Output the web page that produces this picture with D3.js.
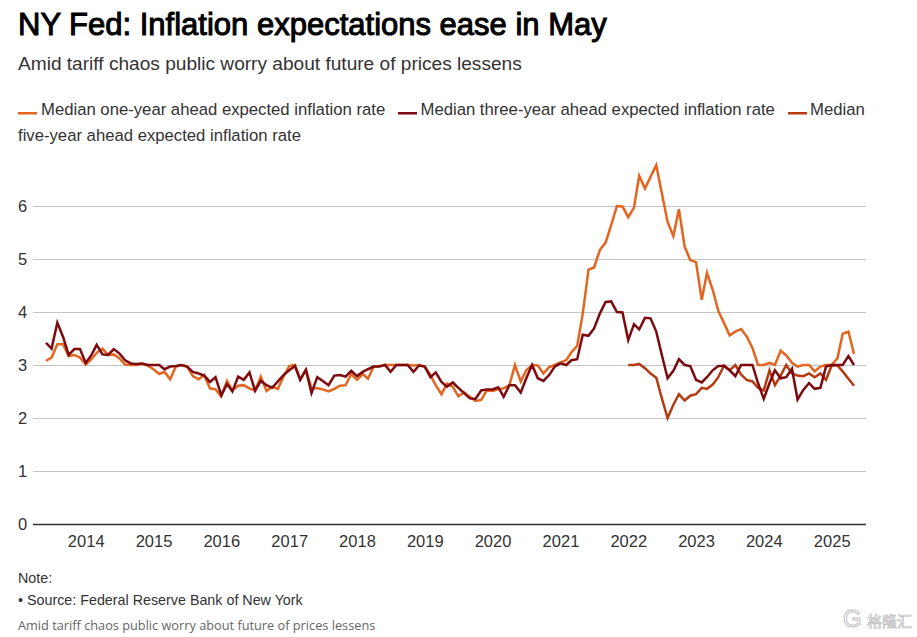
<!DOCTYPE html>
<html>
<head>
<meta charset="utf-8">
<script src="https://cdn.jsdelivr.net/npm/d3@7"></script>
<style>
  html, body { margin: 0; padding: 0; background: #fff; }
  svg { display: block; font-family: "Liberation Sans", Arial, sans-serif; }
  .grid .tick line { stroke: #c4c4c4; stroke-width: 1.2; }
  .grid .tick text { font-size: 16.5px; fill: #333; text-anchor: start; }
  .xaxis .tick text { font-size: 16.5px; fill: #333; }
  .domain { display: none; }
</style>
</head>
<body>
<svg id="chart" width="917" height="637"></svg>
<script>
const firstMonth = '2013-06'
const fiveYearFirstMonth = '2022-01'
const yearTicks = [2014, 2015, 2016, 2017, 2018, 2019, 2020, 2021, 2022, 2023, 2024, 2025]
const valueTicks = [0, 1, 2, 3, 4, 5, 6]
const seriesNames = ['Median one-year ahead expected inflation rate', 'Median three-year ahead expected inflation rate', 'Median five-year ahead expected inflation rate']

const oneYear = [
  3.08, 3.14, 3.39, 3.39, 3.17, 3.19, 3.14, 3.01, 3.11, 3.23, 3.31, 3.19, 3.2, 3.13, 3.01, 3.0,
  3.0, 3.02, 2.99, 2.92, 2.83, 2.87, 2.73, 2.97, 3.0, 2.97, 2.79, 2.73, 2.81, 2.56, 2.54, 2.41,
  2.7, 2.52, 2.61, 2.62, 2.56, 2.52, 2.78, 2.51, 2.59, 2.55, 2.78, 2.98, 3.0, 2.73, 2.91, 2.56,
  2.56, 2.54, 2.5, 2.55, 2.61, 2.62, 2.83, 2.72, 2.83, 2.74, 2.97, 2.98, 3.0, 3.0, 3.0, 3.0,
  3.0, 2.99, 3.0, 2.97, 2.81, 2.62, 2.45, 2.65, 2.59, 2.41, 2.48, 2.4, 2.32, 2.34, 2.52, 2.51,
  2.54, 2.56, 2.62, 3.0, 2.69, 2.9, 3.0, 2.99, 2.84, 2.96, 3.0, 3.05, 3.09, 3.24, 3.36, 3.97,
  4.8, 4.84, 5.17, 5.31, 5.64, 6.0, 5.99, 5.79, 5.97, 6.57, 6.33, 6.55, 6.77, 6.24, 5.7, 5.43,
  5.94, 5.23, 4.98, 4.94, 4.23, 4.74, 4.42, 4.02, 3.79, 3.56, 3.63, 3.68, 3.54, 3.32, 3.0, 3.0,
  3.04, 3.0, 3.27, 3.18, 3.04, 2.97, 3.0, 3.0, 2.88, 2.97, 3.0, 3.0, 3.13, 3.59, 3.63, 3.21
]
const threeYear = [
  3.42, 3.31, 3.8, 3.53, 3.19, 3.3, 3.3, 3.04, 3.19, 3.38, 3.2, 3.19, 3.3, 3.22, 3.09, 3.03,
  3.02, 3.03, 3.0, 3.0, 3.0, 2.92, 2.97, 2.98, 3.0, 2.97, 2.87, 2.84, 2.8, 2.68, 2.77, 2.43,
  2.64, 2.5, 2.78, 2.72, 2.86, 2.51, 2.7, 2.62, 2.57, 2.69, 2.81, 2.9, 2.98, 2.72, 2.91, 2.47,
  2.77, 2.7, 2.62, 2.8, 2.81, 2.78, 2.89, 2.79, 2.87, 2.92, 2.97, 2.97, 3.0, 2.87, 3.0, 3.0,
  3.0, 2.87, 2.99, 2.97, 2.77, 2.86, 2.68, 2.59, 2.67, 2.57, 2.47, 2.37, 2.36, 2.52, 2.54, 2.54,
  2.58, 2.4, 2.62, 2.62, 2.48, 2.75, 3.0, 2.75, 2.7, 2.81, 2.97, 3.03, 3.0, 3.09, 3.11, 3.57,
  3.55, 3.69, 3.97, 4.19, 4.2, 4.0, 3.99, 3.47, 3.77, 3.67, 3.89, 3.88, 3.63, 3.19, 2.75, 2.89,
  3.11, 3.0, 2.98, 2.72, 2.67, 2.77, 2.9, 2.98, 2.98, 2.9, 2.79, 3.0, 3.0, 3.0, 2.66, 2.36,
  2.66, 2.9, 2.75, 2.77, 2.93, 2.35, 2.53, 2.66, 2.55, 2.57, 2.97, 3.0, 3.0, 3.0, 3.17, 3.0
]
const fiveYear = [
  3.0, 3.0, 3.02, 2.94, 2.84, 2.76, 2.37, 2.0, 2.25, 2.45, 2.33, 2.42, 2.45,
  2.57, 2.55, 2.63, 2.77, 2.99, 2.9, 3.0, 2.82, 2.72, 2.69, 2.57, 2.52, 2.9,
  2.62, 2.8, 3.0, 2.84, 2.8, 2.79, 2.84, 2.77, 2.84, 2.72, 2.99, 2.99, 2.88, 2.74, 2.61
]

const oneYearColor = '#e4651f'
const threeYearColor = '#7d0a0f'
const fiveYearColor = '#b63a12'

const parseMonth = d3.utcParse('%Y-%m')

// turn a value list into {date, value} points, one per month from the start month
function toPoints(values, start) {
  return values.map((v, i) => ({date: d3.utcMonth.offset(parseMonth(start), i), value: v}))
}

const svg = d3.select('#chart')

const xScale = d3.scaleUtc()
  .domain([parseMonth(firstMonth), d3.utcMonth.offset(parseMonth(firstMonth), oneYear.length - 1)])
  .range([46, 854])
const yScale = d3.scaleLinear().domain([0, 6]).range([524, 206])

// Title block
svg.append('text').text('NY Fed: Inflation expectations ease in May')
  .attr('x', 18).attr('y', 34.5)
  .style('font-size', '31px')
  .attr('fill', '#000').attr('stroke', '#000').attr('stroke-width', 1)
svg.append('text').text('Amid tariff chaos public worry about future of prices lessens')
  .attr('x', 18).attr('y', 70)
  .style('font-size', '19.1px').attr('fill', '#333')

// Legend, wraps onto a second line like the original
const legendFont = '16.7px'
const legendRows = [
  {x: 18, color: oneYearColor, label: seriesNames[0], labelX: 41, y: 115},
  {x: 398, color: threeYearColor, label: seriesNames[1], labelX: 420.5, y: 115},
  {x: 788, color: fiveYearColor, label: 'Median', labelX: 810, y: 115}
]
const legend = svg.append('g').attr('class', 'legend')
legend.selectAll('rect').data(legendRows).join('rect')
  .attr('x', d => d.x).attr('y', 112).attr('width', 19).attr('height', 2.5).attr('fill', d => d.color)
legend.selectAll('text').data(legendRows).join('text')
  .attr('x', d => d.labelX).attr('y', d => d.y).text(d => d.label)
  .style('font-size', legendFont).attr('fill', '#333')
legend.append('text').text('five-year ahead expected inflation rate')
  .attr('x', 18).attr('y', 141).style('font-size', legendFont).attr('fill', '#333')

// Axes
const yAxis = d3.axisLeft(yScale).tickValues(valueTicks).tickSize(-833).tickFormat(d3.format('d'))
const yAxisG = svg.append('g').attr('class', 'grid').attr('transform', 'translate(33,0)').call(yAxis)
yAxisG.selectAll('.tick text').attr('x', -15).attr('dy', '0.32em')
yAxisG.selectAll('.tick').filter(d => d === 0).select('line')
  .style('stroke', '#333').style('stroke-width', 1.6)

const xAxis = d3.axisBottom(xScale)
  .tickValues(yearTicks.map(y => new Date(Date.UTC(y, 0, 1))))
  .tickSize(0).tickPadding(11).tickFormat(d3.utcFormat('%Y'))
svg.append('g').attr('class', 'xaxis').attr('transform', 'translate(0,524)').call(xAxis)

// Lines
const line = d3.line().x(d => xScale(d.date)).y(d => yScale(d.value))
const series = [
  {points: toPoints(oneYear, firstMonth), color: oneYearColor},
  {points: toPoints(fiveYear, fiveYearFirstMonth), color: fiveYearColor},
  {points: toPoints(threeYear, firstMonth), color: threeYearColor}
]
svg.append('g').selectAll('path').data(series).join('path')
  .attr('d', d => line(d.points))
  .attr('fill', 'none').attr('stroke', d => d.color)
  .attr('stroke-width', 2.5).attr('stroke-linejoin', 'miter')

// Notes
svg.append('text').text('Note:').attr('x', 18).attr('y', 583)
  .style('font-size', '14.3px').attr('fill', '#333')
svg.append('text').text('• Source: Federal Reserve Bank of New York').attr('x', 18).attr('y', 605)
  .style('font-size', '14.3px').attr('fill', '#333')
svg.append('text').text('Amid tariff chaos public worry about future of prices lessens').attr('x', 18).attr('y', 630)
  .style('font-family', '"Open Sans", sans-serif').style('font-size', '12.75px').attr('fill', '#666')

// Watermark, bottom right
svg.append('text').text('G').attr('x', 843).attr('y', 627)
  .style('font-size', '24px').attr('fill', '#fff').attr('stroke', '#c4c4c4').attr('stroke-width', 1)
svg.append('text').text('格隆汇').attr('x', 867).attr('y', 627)
  .style('font-family', '"Noto Sans CJK SC", sans-serif').style('font-size', '15px')
  .attr('fill', '#fff').attr('stroke', '#bbb').attr('stroke-width', 0.7)
</script>
</body>
</html>
